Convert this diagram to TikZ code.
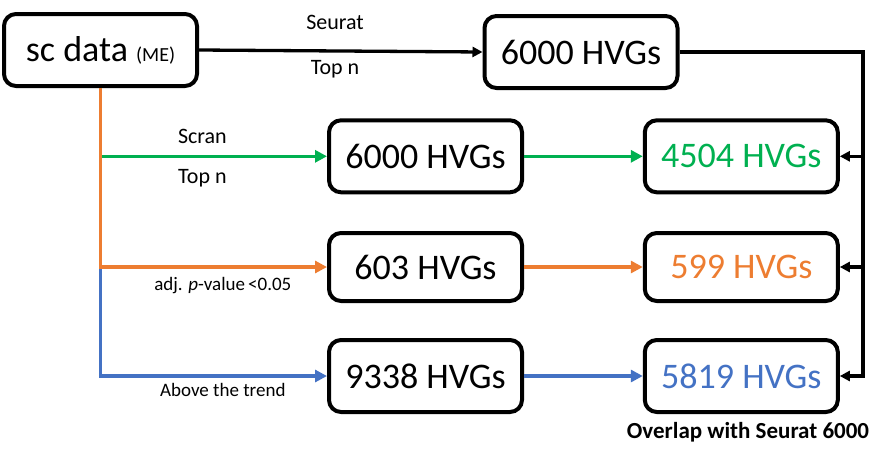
\documentclass[tikz,border=0pt]{standalone}
\usepackage{fontspec}
\setmainfont{Carlito}
\usetikzlibrary{arrows.meta}
\definecolor{hvggreen}{RGB}{0,176,80}
\definecolor{hvgorange}{RGB}{237,125,49}
\definecolor{hvgblue}{RGB}{68,114,196}

\begin{document}
\begin{tikzpicture}[x=1pt,y=-1pt,
  box/.style={draw,line width=4pt,rounded corners=12pt,minimum width=193pt,minimum height=72pt,inner sep=0pt,font=\fontsize{36}{40}\selectfont},
  blackline/.style={line width=3.3pt,-{Triangle[length=10pt,width=10pt]}},
  colline/.style={line width=3.3pt,-{Triangle[length=12pt,width=12pt]}},
  lab/.style={font=\fontsize{22}{24}\selectfont},
  smalllab/.style={font=\fontsize{19}{21}\selectfont}]
  \useasboundingbox (0,0) rectangle (896,461);

  \node[box] (sc) at (100.5,50) {sc data {\fontsize{20}{20}\selectfont (ME)}};
  \node[box] (seu) at (581,52) {6000 HVGs};
  \node[box] (scran) at (425.5,156.3) {6000 HVGs};
  \node[box,minimum height=68pt] (pval) at (425.5,267) {603 HVGs};
  \node[box] (trend) at (425.5,376) {9338 HVGs};
  \node[box,text=hvggreen] (ov1) at (741.3,156.3) {4504 HVGs};
  \node[box,minimum height=68pt,text=hvgorange] (ov2) at (741.3,267) {599 HVGs};
  \node[box,text=hvgblue] (ov3) at (741.3,376) {5819 HVGs};
  \node[font=\bfseries\fontsize{23}{25}\selectfont] (overlap) at (748,432.5) {Overlap with Seurat 6000};

  \coordinate (rail) at (863,52);
  \coordinate (gsplit) at (sc.south |- scran.west);
  \coordinate (bsplit) at (sc.south |- pval.west);

  % seurat branch
  \draw[blackline] (sc.east) -- node[lab,above=16pt,pos=0.48] {Seurat} node[lab,below=4pt,pos=0.48] {Top n} (seu.west);
  \draw[blackline] (seu.east) -- (rail) |- (ov3.east);
  \draw[blackline] (rail |- ov1.east) -- (ov1.east);
  \draw[blackline] (rail |- ov2.east) -- (ov2.east);

  % scran branches
  \draw[colline,hvggreen] (gsplit) -- node[lab,text=black,above=8pt,pos=0.45] {Scran} node[lab,text=black,below=8pt,pos=0.45] {Top n} (scran.west);
  \draw[colline,hvgblue] (bsplit) |- node[smalllab,text=black,below=2pt,pos=0.77] {Above the trend} (trend.west);
  \draw[colline,hvgorange] (sc.south) |- node[smalllab,text=black,below=5pt,pos=0.77] {adj. \textit{p}-value\,<0.05} (pval.west);

  \draw[colline,hvggreen] (scran.east) -- (ov1.west);
  \draw[colline,hvgorange] (pval.east) -- (ov2.west);
  \draw[colline,hvgblue] (trend.east) -- (ov3.west);
\end{tikzpicture}
\end{document}
